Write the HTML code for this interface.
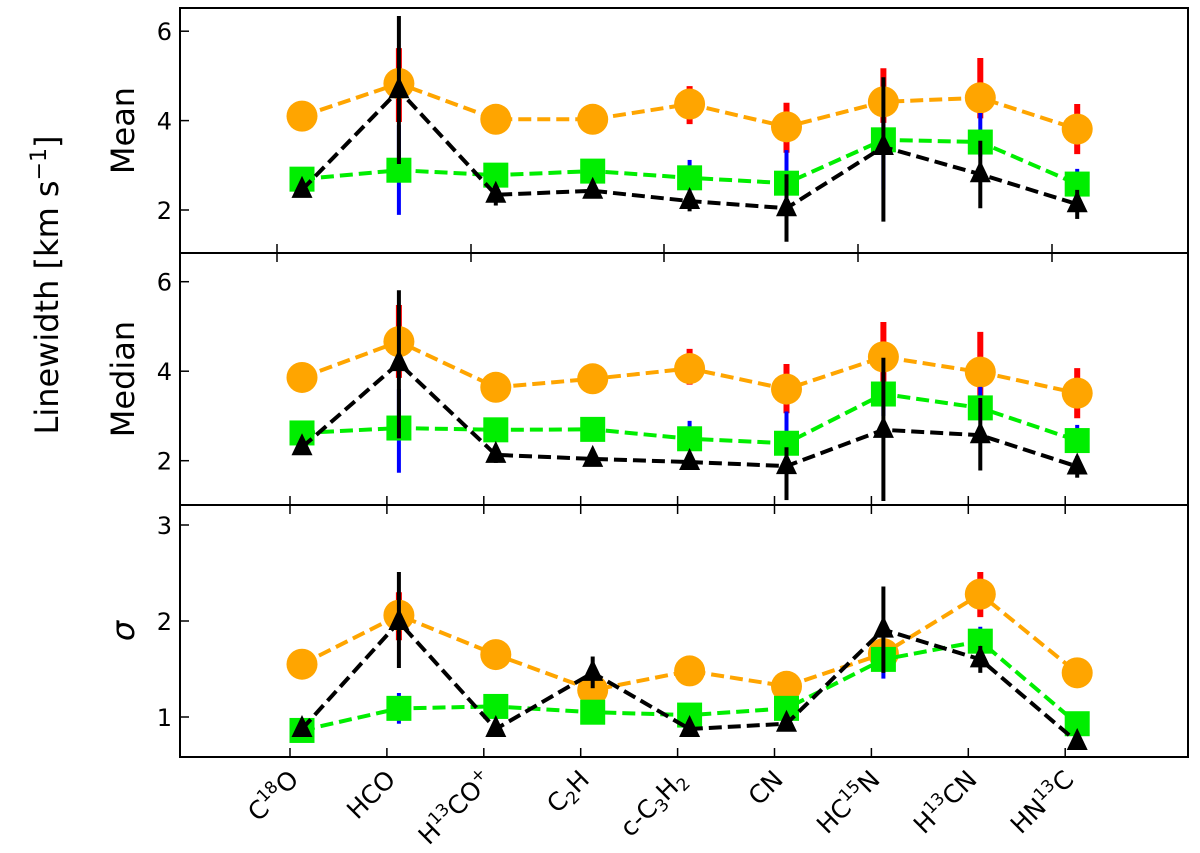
<!DOCTYPE html>
<html><head><meta charset="utf-8"><style>
body{margin:0;background:#fff;}
svg{display:block;font-family:"DejaVu Sans","Liberation Sans",sans-serif;}
</style></head><body>
<svg id="c" width="1200" height="853"></svg>
<script>
const categories=["C18O","HCO","H13CO+","C2H","c-C3H2","CN","HC15N","H13CN","HN13C"];
const labelsHTML=[["C","18","O"],["HCO"],["H","13","CO","+"],["C","2","H"],["c-C","3","H","2"],["CN"],["HC","15","N"],["H","13","CN"],["HN","13","C"]];
// Mean panel
const meanOrange=[4.10,4.83,4.03,4.03,4.37,3.86,4.42,4.51,3.81];
const meanOrangeLo=[4.0,3.97,3.95,3.95,3.92,3.28,3.95,4.05,3.25];
const meanOrangeHi=[4.2,5.62,4.1,4.1,4.77,4.40,5.17,5.40,4.37];
const meanGreen=[2.69,2.89,2.78,2.87,2.72,2.60,3.57,3.52,2.58];
const meanGreenLo=[2.6,1.89,2.7,2.8,2.4,2.3,2.45,3.2,2.4];
const meanGreenHi=[2.75,3.9,2.85,2.95,3.12,3.34,4.0,4.17,2.92];
const meanBlack=[2.45,4.68,2.34,2.43,2.2,2.04,3.41,2.80,2.13];
const meanBlackLo=[2.4,3.03,2.1,2.35,1.97,1.29,1.74,2.04,1.8];
const meanBlackHi=[2.5,6.34,2.5,2.5,2.4,2.8,4.97,3.55,2.45];
// Median panel
const medOrange=[3.86,4.66,3.64,3.83,4.06,3.60,4.32,3.98,3.51];
const medOrangeLo=[3.8,3.85,3.6,3.8,3.7,3.06,3.5,3.2,2.95];
const medOrangeHi=[3.9,5.48,3.7,3.9,4.5,4.16,5.1,4.88,4.07];
const medGreen=[2.62,2.73,2.69,2.70,2.49,2.39,3.49,3.18,2.45];
const medGreenLo=[2.55,1.73,2.6,2.6,2.3,2.2,3.0,2.9,2.3];
const medGreenHi=[2.7,3.6,2.75,2.8,2.89,3.1,3.8,3.65,2.8];
const medBlack=[2.3,4.18,2.13,2.04,1.97,1.88,2.69,2.57,1.87];
const medBlackLo=[2.25,2.5,1.95,1.98,1.8,1.12,1.1,1.78,1.62];
const medBlackHi=[2.35,5.81,2.3,2.1,2.15,2.3,4.3,3.4,2.1];
// Sigma panel
const sigOrange=[1.55,2.06,1.65,1.28,1.48,1.32,1.66,2.28,1.46];
const sigOrangeLo=[1.5,1.8,1.5,1.25,1.45,1.3,1.6,2.04,1.44];
const sigOrangeHi=[1.6,2.3,1.78,1.3,1.5,1.35,1.7,2.51,1.48];
const sigGreen=[0.86,1.09,1.11,1.05,1.02,1.09,1.60,1.79,0.93];
const sigGreenLo=[0.84,0.93,1.08,1.03,1.0,1.07,1.40,1.7,0.9];
const sigGreenHi=[0.88,1.25,1.14,1.07,1.04,1.11,1.7,1.94,0.96];
const sigBlack=[0.875,1.99,0.875,1.46,0.875,0.93,1.91,1.60,0.74];
const sigBlackLo=[0.85,1.51,0.85,1.3,0.85,0.9,1.46,1.46,0.72];
const sigBlackHi=[0.9,2.51,0.9,1.63,0.9,0.96,2.36,1.74,0.76];
const meanTicks=[2,4,6],medTicks=[2,4,6],sigTicks=[1,2,3];

const NS="http://www.w3.org/2000/svg";
const svg=document.getElementById('c');
function mk(t,a,p){const e=document.createElementNS(NS,t);for(const k in a)e.setAttribute(k,a[k]);(p||svg).appendChild(e);return e;}
const L=180,R=1188;
const tickX=i=>290+i*96.9;
const xs=i=>tickX(i)+12;
const panels=[
 {name:'mean',top:8,bot:253,y:v=>210-(v-2)*44.7,ticks:meanTicks,label:'Mean',
  s:[[meanOrange,meanOrangeLo,meanOrangeHi],[meanGreen,meanGreenLo,meanGreenHi],[meanBlack,meanBlackLo,meanBlackHi]]},
 {name:'median',top:253,bot:505,y:v=>460.7-(v-2)*44.75,ticks:medTicks,label:'Median',
  s:[[medOrange,medOrangeLo,medOrangeHi],[medGreen,medGreenLo,medGreenHi],[medBlack,medBlackLo,medBlackHi]]},
 {name:'sigma',top:505,bot:757,y:v=>717-(v-1)*96,ticks:sigTicks,label:'σ',
  s:[[sigOrange,sigOrangeLo,sigOrangeHi],[sigGreen,sigGreenLo,sigGreenHi],[sigBlack,sigBlackLo,sigBlackHi]]}
];
const styles=[{line:'#ffa500',err:'#ff0000',ew:6,name:'orange'},{line:'#00ee00',err:'#0000ff',ew:4,name:'green'},{line:'#000',err:'#000',ew:4,name:'black'}];
const oddTicks=[277,471,664,858,1052];
panels.forEach((p,pi)=>{
  const g=mk('g',{});
  
  
  const cp=mk('clipPath',{id:'cp'+pi},g);
  mk('rect',{x:L,y:p.top,width:R-L,height:p.bot-p.top},cp);
  const dg=mk('g',{'clip-path':'url(#cp'+pi+')'},g);
  p.s.forEach((ser,si)=>{
    const st=styles[si];
    const [v,lo,hi]=ser;
    const sg=mk('g',{},dg);
    
    
    v.forEach((d,i)=>{const e=mk('line',{x1:xs(i),x2:xs(i),y1:p.y(lo[i]),y2:p.y(hi[i]),stroke:st.err,'stroke-width':st.ew},sg);
      });
    const pl=mk('polyline',{points:v.map((d,i)=>xs(i)+','+p.y(d)).join(' '),fill:'none',stroke:st.line,'stroke-width':4,'stroke-dasharray':'13,6'},sg);
    
    v.forEach((d,i)=>{
      const x=xs(i),y=p.y(d);let m;
      if(si===0)m=mk('ellipse',{cx:x,cy:y,rx:15.5,ry:15.5,fill:'#ffa500'},sg);
      else if(si===1)m=mk('rect',{x:x-12.5,y:y-12.5,width:25,height:25,fill:'#00ee00'},sg);
      else m=mk('polygon',{points:`${x},${y-14} ${x+10.5},${y+8} ${x-10.5},${y+8}`,fill:'#000'},sg);
      
      
    });
  });
  mk('rect',{x:L,y:p.top,width:R-L,height:p.bot-p.top,fill:'none',stroke:'#000','stroke-width':2},g);
  p.ticks.forEach(t=>{const y=p.y(t);
    mk('line',{x1:L,x2:L+9,y1:y,y2:y,stroke:'#000','stroke-width':1.5},g);
    const tx=mk('text',{x:L-8,y:y+9,'text-anchor':'end','font-size':24},g);tx.textContent=t;
    });
  const yl=mk('text',{x:0,y:0,'font-size':32,'text-anchor':'middle',transform:`translate(134,${(p.top+p.bot)/2}) rotate(-90)`,'font-style':pi===2?'italic':'normal'},g);
  yl.textContent=p.label;
  
});
// x ticks
function tk(x,y,dir){mk('line',{x1:x,x2:x,y1:y,y2:y+dir*9,stroke:'#000','stroke-width':1.5});}
oddTicks.forEach(x=>{tk(x,253,-1);tk(x,253,1);});
categories.forEach((c,i)=>{tk(tickX(i),505,-1);tk(tickX(i),505,1);tk(tickX(i),757,-1);});
categories.forEach((c,i)=>{
  const t=mk('text',{x:0,y:0,'font-size':25,'text-anchor':'end',transform:`translate(${tickX(i)+10},${781}) rotate(-45)`});
  const parts=labelsHTML[i];
  parts.forEach((s,k)=>{
    const isNum=/^[0-9+]+$/.test(s)&&k>0;
    const ts=mk('tspan',{},t);ts.textContent=s;
    if(isNum){ts.setAttribute('font-size','17');ts.setAttribute('dy',(c==='C2H'||c==='c-C3H2')?'5':'-10');}
    else if(k>0){const prev=parts[k-1];if(/^[0-9+]+$/.test(prev)){ts.setAttribute('dy',(c==='C2H'||c==='c-C3H2')?'-5':'10');}}
  });
  
  
});
const yt=mk('text',{x:0,y:0,'font-size':32,'text-anchor':'middle',transform:'translate(58,285) rotate(-90)'});
yt.innerHTML='Linewidth [km s<tspan font-size="22" dy="-12">−1</tspan><tspan dy="12">]</tspan>';


</script>
</body></html>
